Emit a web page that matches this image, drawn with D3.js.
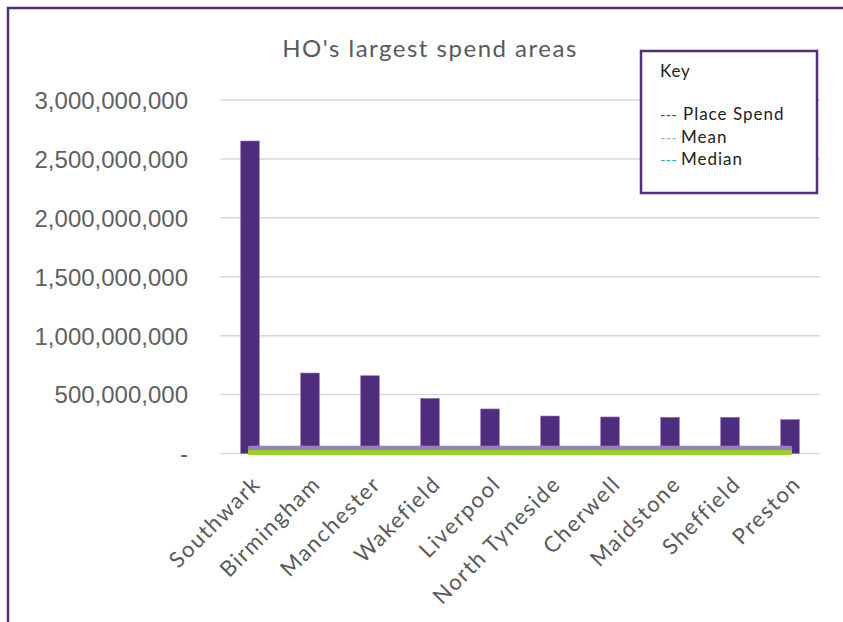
<!DOCTYPE html>
<html>
<head>
<meta charset="utf-8">
<script src="https://cdn.jsdelivr.net/npm/d3@7/dist/d3.min.js"></script>
<style>
  html, body { margin: 0; padding: 0; background: #fff; }
  svg { display: block; }
</style>
</head>
<body>
<svg id="chart" width="843" height="622"></svg>
<script>
// Places with the largest Home Office spend
const places = ["Southwark", "Birmingham", "Manchester", "Wakefield", "Liverpool",
                "North Tyneside", "Cherwell", "Maidstone", "Sheffield", "Preston"];
const placeSpend = [2652000000, 683000000, 660000000, 468000000, 378000000,
                    318000000, 310000000, 307000000, 307000000, 287000000];
// Mean and median across all places
const meanSpend = 47000000;
const medianSpend = 8000000;
const yTicks = [0, 500000000, 1000000000, 1500000000, 2000000000, 2500000000, 3000000000];
const legendItems = [
  { label: "Place Spend", color: "#5b3d94" },
  { label: "Mean", color: "#b7a6d6" },
  { label: "Median", color: "#3aa9a9" }
];

const purple = "#4f2d7f";
const textGrey = "#595959";
const geoFont = "Lato, 'Noto Sans', sans-serif";

const svg = d3.select("#chart");

// Outer frame (top and left edges)
svg.append("path")
  .attr("d", "M8,622 L8,8 L843,8")
  .attr("fill", "none")
  .attr("stroke", purple)
  .attr("stroke-width", 2.5);

const plot = { left: 220, right: 820, top: 100, bottom: 453.5 };

const x = d3.scaleBand()
  .domain(places)
  .range([plot.left, plot.right])
  .paddingInner(0.69)
  .paddingOuter(0.345);

const y = d3.scaleLinear()
  .domain([0, 3000000000])
  .range([plot.bottom, plot.top]);

// Gridlines
svg.append("g")
  .selectAll("line")
  .data(yTicks)
  .join("line")
  .attr("x1", plot.left)
  .attr("x2", plot.right)
  .attr("y1", d => y(d))
  .attr("y2", d => y(d))
  .attr("stroke", "#d9d9d9")
  .attr("stroke-width", 1.5);

// Y axis labels
const yAxis = d3.axisLeft(y)
  .tickValues(yTicks)
  .tickSize(0)
  .tickPadding(0)
  .tickFormat(d => d === 0 ? "-" : d3.format(",")(d));

const yg = svg.append("g")
  .attr("transform", `translate(188,0)`)
  .call(yAxis);
yg.select(".domain").remove();
yg.selectAll("text")
  .attr("fill", "#606060")
  .attr("font-family", "'Liberation Sans', Arial, sans-serif")
  .attr("font-size", 24)
  .attr("dy", "0.35em");

// Bars
svg.append("g")
  .selectAll("rect")
  .data(places)
  .join("rect")
  .attr("x", d => x(d))
  .attr("width", x.bandwidth())
  .attr("y", (d, i) => y(placeSpend[i]))
  .attr("height", (d, i) => plot.bottom - y(placeSpend[i]))
  .attr("fill", purple)
  .attr("stroke", "#8c72b0")
  .attr("stroke-width", 0.6);

// Mean and median lines across the categories
const xFirst = x(places[0]) + x.bandwidth() / 2;
const xLast = x(places[places.length - 1]) + x.bandwidth() / 2;

svg.append("line")
  .attr("x1", xFirst).attr("x2", xLast)
  .attr("y1", y(meanSpend)).attr("y2", y(meanSpend))
  .attr("stroke", "#9a80b8")
  .attr("stroke-width", 4.5)
  .attr("stroke-linecap", "round");

svg.append("line")
  .attr("x1", xFirst - 2).attr("x2", xLast + 2)
  .attr("y1", y(medianSpend)).attr("y2", y(medianSpend))
  .attr("stroke", "#99d02e")
  .attr("stroke-width", 5);

// Category labels, rotated
const xAxis = d3.axisBottom(x).tickSize(0).tickPadding(0);
const xg = svg.append("g")
  .attr("transform", `translate(0,${plot.bottom})`)
  .call(xAxis);
xg.select(".domain").remove();
xg.selectAll("text")
  .attr("fill", textGrey)
  .attr("font-family", geoFont)
  .attr("font-size", 22)
  .attr("letter-spacing", 1.6)
  .attr("text-anchor", "end")
  .attr("dy", 0)
  .attr("transform", "translate(12,32) rotate(-45)");

// Title
svg.append("text")
  .attr("x", 430)
  .attr("y", 57)
  .attr("text-anchor", "middle")
  .attr("fill", textGrey)
  .attr("font-family", geoFont)
  .attr("font-size", 24)
  .attr("letter-spacing", 1.5)
  .text("HO's largest spend areas");

// Legend box
const lg = svg.append("g");
lg.append("rect")
  .attr("x", 641).attr("y", 51)
  .attr("width", 176).attr("height", 142)
  .attr("fill", "#fff")
  .attr("stroke", purple)
  .attr("stroke-width", 2.5);

lg.append("text")
  .attr("x", 660).attr("y", 77)
  .attr("fill", "#222")
  .attr("font-family", geoFont)
  .attr("font-size", 17)
  .attr("letter-spacing", 0.8)
  .text("Key");

const rows = lg.selectAll("g.item")
  .data(legendItems)
  .join("g")
  .attr("class", "item")
  .attr("transform", (d, i) => `translate(660,${120 + i * 22.5})`);

rows.append("text")
  .attr("x", 0)
  .attr("fill", d => d.color)
  .attr("font-family", geoFont)
  .attr("font-size", 15)
  .text("---");

rows.append("text")
  .attr("x", (d, i) => i === 0 ? 23 : 21)
  .attr("fill", "#222")
  .attr("font-family", geoFont)
  .attr("font-size", 17)
  .attr("letter-spacing", 1)
  .text(d => d.label);
</script>
</body>
</html>
